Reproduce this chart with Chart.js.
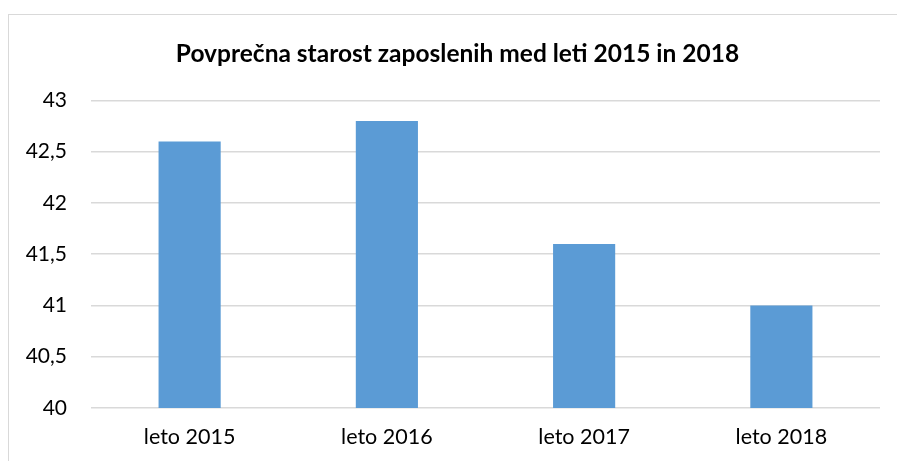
<!DOCTYPE html>
<html>
<head>
<meta charset="utf-8">
<script src="https://cdn.jsdelivr.net/npm/chart.js@4"></script>
<style>
  html, body { margin: 0; padding: 0; background: #ffffff; }
  #wrap { position: relative; width: 897px; height: 461px; overflow: hidden; }
  #frame { position: absolute; left: 8px; top: 14px; width: 900px; height: 460px; border: 1.5px solid #d9d9d9; box-sizing: border-box; }
  canvas { position: absolute; left: 0; top: 0; }
</style>
</head>
<body>
<div id="wrap">
  <div id="frame"></div>
  <canvas id="c" width="897" height="461"></canvas>
</div>
<script>
const titleText = 'Povprečna starost zaposlenih med leti 2015 in 2018';
const categories = ['leto 2015', 'leto 2016', 'leto 2017', 'leto 2018'];
const averageAge = [42.6, 42.8, 41.6, 41.0];
const yTickValues = [40, 40.5, 41, 41.5, 42, 42.5, 43];
const yTickLabels = ['40', '40,5', '41', '41,5', '42', '42,5', '43'];

const FONT = 'Lato, "Open Sans", sans-serif';

const shiftTitle = {
  id: 'shiftTitle',
  afterLayout(chart) {
    if (chart.titleBlock) { chart.titleBlock.left = 35; }
  }
};

new Chart(document.getElementById('c'), {
  type: 'bar',
  data: {
    labels: categories,
    datasets: [{
      data: averageAge,
      backgroundColor: '#5b9bd5',
      borderWidth: 0,
      categoryPercentage: 1.0,
      barPercentage: 0.315
    }]
  },
  plugins: [shiftTitle],
  options: {
    responsive: false,
    animation: false,
    devicePixelRatio: 1,
    layout: { padding: { left: 0, right: 17, top: 0, bottom: 12 } },
    plugins: {
      legend: { display: false },
      tooltip: { enabled: false },
      title: {
        display: true,
        text: titleText,
        color: '#000000',
        font: { family: FONT, size: 24.5, weight: 'bold' },
        padding: { top: 39, bottom: 32 }
      }
    },
    scales: {
      x: {
        afterFit: (s) => { s.height = 41; },
        grid: { display: false, drawTicks: false },
        border: { display: false },
        ticks: {
          color: '#000000',
          font: { family: FONT, size: 21.5 },
          padding: 16,
          maxRotation: 0
        }
      },
      y: {
        min: 40,
        max: 43,
        afterFit: (s) => { s.width = 91; },
        afterBuildTicks: (s) => { s.ticks = yTickValues.map(v => ({ value: v })); },
        grid: { color: '#d9d9d9', lineWidth: 1.5, drawTicks: false },
        border: { display: false },
        ticks: {
          color: '#000000',
          font: { family: FONT, size: 21 },
          padding: 24,
          callback: (v) => {
            const i = yTickValues.indexOf(v);
            return i >= 0 ? yTickLabels[i] : '';
          }
        }
      }
    }
  }
});
</script>
</body>
</html>
